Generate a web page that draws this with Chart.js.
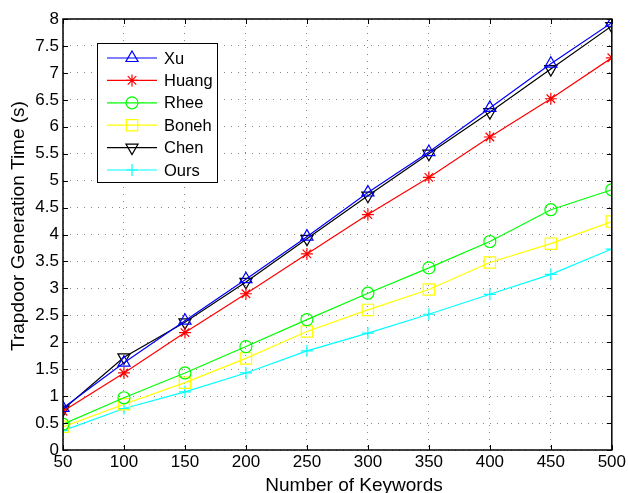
<!DOCTYPE html>
<html>
<head>
<meta charset="utf-8">
<script src="https://cdn.jsdelivr.net/npm/chart.js@4/dist/chart.umd.min.js"></script>
<style>
  html, body { margin: 0; padding: 0; background: #fff; }
  #wrap { width: 628px; height: 493px; }
</style>
</head>
<body>
<div id="wrap"><canvas id="chart" width="628" height="493"></canvas></div>
<script>
// Data
const keywords = [50, 100, 150, 200, 250, 300, 350, 400, 450, 500];
const xu    = [0.78, 1.62, 2.40, 3.17, 3.96, 4.78, 5.53, 6.35, 7.17, 7.93];
const huang = [0.72, 1.43, 2.18, 2.90, 3.64, 4.37, 5.06, 5.81, 6.52, 7.28];
const rhee  = [0.48, 0.97, 1.43, 1.92, 2.42, 2.91, 3.38, 3.87, 4.46, 4.83];
const boneh = [0.43, 0.85, 1.25, 1.70, 2.20, 2.60, 2.98, 3.48, 3.83, 4.24];
const chen  = [0.75, 1.72, 2.37, 3.12, 3.92, 4.72, 5.50, 6.27, 7.07, 7.87];
const ours  = [0.36, 0.77, 1.08, 1.43, 1.84, 2.17, 2.52, 2.89, 3.26, 3.73];
const yTicks = [0, 0.5, 1, 1.5, 2, 2.5, 3, 3.5, 4, 4.5, 5, 5.5, 6, 6.5, 7, 7.5, 8];
const xTitle = 'Number of Keywords';
const yTitle = 'Trapdoor Generation Time (s)';

const FONT = '"Liberation Sans", Arial, Helvetica, sans-serif';

function series(label, values, color, style, rotation, radius) {
    return {
        label: label,
        data: values.map((v, i) => ({ x: keywords[i], y: v })),
        borderColor: color,
        backgroundColor: 'rgba(0,0,0,0)',
        borderWidth: 1.2,
        pointStyle: style,
        pointRotation: rotation,
        pointRadius: radius,
        pointBorderColor: color,
        pointBackgroundColor: 'rgba(0,0,0,0)',
        pointBorderWidth: 1.2,
        tension: 0
    };
}

// Box around plot area, inward ticks on all four sides, axis titles
const boxPlugin = {
    id: 'box',
    afterDraw(chart) {
        const { ctx, chartArea: a, scales } = chart;
        ctx.save();
        ctx.strokeStyle = '#000';
        ctx.lineWidth = 1;
        const len = 5;
        ctx.beginPath();
        scales.x.ticks.forEach(t => {
            const px = Math.round(scales.x.getPixelForValue(t.value)) + 0.5;
            ctx.moveTo(px, a.bottom); ctx.lineTo(px, a.bottom - len);
            ctx.moveTo(px, a.top); ctx.lineTo(px, a.top + len);
        });
        scales.y.ticks.forEach(t => {
            const py = Math.round(scales.y.getPixelForValue(t.value)) + 0.5;
            ctx.moveTo(a.left, py); ctx.lineTo(a.left + len, py);
            ctx.moveTo(a.right, py); ctx.lineTo(a.right - len, py);
        });
        ctx.stroke();
        ctx.lineWidth = 1.5;
        ctx.strokeRect(a.left, a.top, a.right - a.left, a.bottom - a.top);

        // axis titles (MATLAB places them a bit off-centre)
        ctx.fillStyle = '#000';
        ctx.font = '19px ' + FONT;
        ctx.textAlign = 'center';
        ctx.textBaseline = 'alphabetic';
        ctx.fillText(xTitle, 354, 491);
        ctx.translate(24, 226);
        ctx.rotate(-Math.PI / 2);
        ctx.fillText(yTitle, 0, 0);
        ctx.restore();
    }
};

// MATLAB-style legend box in upper left of the plot
const legendBox = {
    id: 'legendBox',
    afterDraw(chart) {
        const { ctx } = chart;
        const x0 = 97, y0 = 43, w = 120, h = 139;
        ctx.save();
        ctx.fillStyle = '#fff';
        ctx.fillRect(x0, y0, w, h);
        ctx.strokeStyle = '#000';
        ctx.lineWidth = 1;
        ctx.strokeRect(x0 + 0.5, y0 + 0.5, w, h);
        ctx.font = '16.5px ' + FONT;
        ctx.textBaseline = 'middle';
        chart.data.datasets.forEach((ds, i) => {
            const cy = y0 + 15 + i * 22.4;
            ctx.strokeStyle = ds.borderColor;
            ctx.lineWidth = 1.2;
            ctx.beginPath();
            ctx.moveTo(x0 + 10, cy);
            ctx.lineTo(x0 + 60, cy);
            ctx.stroke();
            ctx.fillStyle = 'rgba(0,0,0,0)';
            Chart.helpers.drawPoint(ctx, {
                pointStyle: ds.pointStyle,
                rotation: ds.pointRotation,
                radius: ds.pointRadius,
                borderWidth: 1.2
            }, x0 + 35, cy);
            ctx.fillStyle = '#000';
            ctx.fillText(ds.label, x0 + 67, cy + 1);
        });
        ctx.restore();
    }
};

new Chart(document.getElementById('chart'), {
    type: 'line',
    data: {
        datasets: [
            series('Xu', xu, '#0000ff', 'triangle', 0, 7),
            series('Huang', huang, '#ff0000', 'star', 0, 6),
            series('Rhee', rhee, '#00ff00', 'circle', 0, 6),
            series('Boneh', boneh, '#ffff00', 'rect', 0, 8),
            series('Chen', chen, '#000000', 'triangle', 180, 7),
            series('Ours', ours, '#00ffff', 'cross', 0, 6)
        ]
    },
    options: {
        responsive: false,
        animation: false,
        layout: { padding: { top: 19, right: 16, left: 0, bottom: 0 } },
        plugins: {
            legend: { display: false },
            tooltip: { enabled: false }
        },
        scales: {
            x: {
                type: 'linear',
                min: 50,
                max: 500,
                afterFit(scale) { scale.height = 43; },
                afterBuildTicks(scale) { scale.ticks = keywords.map(v => ({ value: v })); },
                grid: { color: '#888', lineWidth: 1, drawTicks: false },
                border: { display: false, dash: [1, 6] },
                ticks: { color: '#000', font: { size: 17, family: FONT }, padding: 2, maxRotation: 0 }
            },
            y: {
                min: 0,
                max: 8,
                afterFit(scale) { scale.width = 63; },
                afterBuildTicks(scale) { scale.ticks = yTicks.map(v => ({ value: v })); },
                grid: { color: '#888', lineWidth: 1, drawTicks: false },
                border: { display: false, dash: [1, 6] },
                ticks: { color: '#000', font: { size: 17, family: FONT }, padding: 4, callback: v => String(v) }
            }
        }
    },
    plugins: [boxPlugin, legendBox]
});
</script>
</body>
</html>
